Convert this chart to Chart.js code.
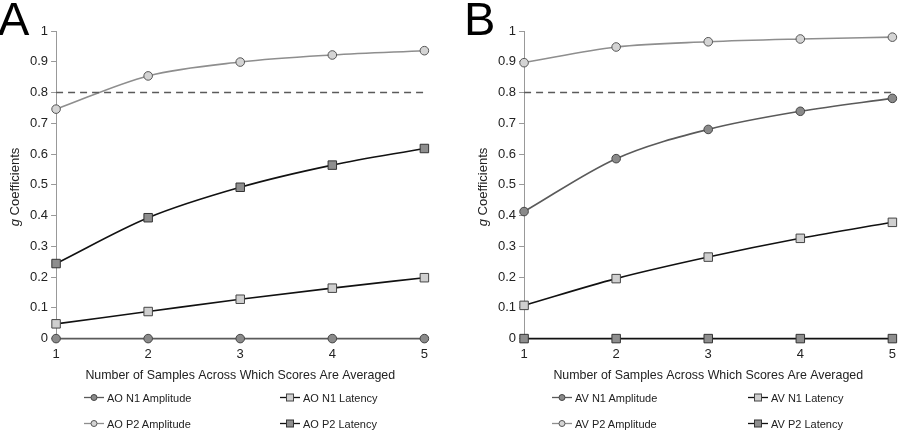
<!DOCTYPE html>
<html lang="en">
<head>
  <meta charset="UTF-8">
  <title>g Coefficients</title>
  <script src="https://cdn.jsdelivr.net/npm/chart.js"></script>
  <style>
    body {
      margin: 0;
      width: 900px;
      height: 430px;
      background: #fff;
      font-family: "Liberation Sans", Arial, sans-serif;
      color: #222;
      position: relative;
      overflow: hidden;
    }

    .panel {
      position: absolute;
      top: 0;
      width: 437px;
      height: 430px;
    }

    .panel canvas {
      position: absolute;
      left: 0;
      top: 0;
    }

    .letter {
      position: absolute;
      top: -9px;
      font-size: 47px;
      color: #000;
    }

    .ytitle {
      position: absolute;
      left: 14px;
      top: 187px;
      transform: translate(-50%, -50%) rotate(-90deg);
      font-size: 13px;
      white-space: nowrap;
    }

    .legend-item {
      position: absolute;
      font-size: 11px;
      display: flex;
      align-items: center;
      white-space: nowrap;
    }

    .legend-item svg {
      margin-right: 3px;
    }
  </style>
</head>
<body>

<div class="panel" id="panelA" style="left:0">
  <canvas id="chartA" width="437" height="430"></canvas>
  <div class="ytitle"><i>g</i> Coefficients</div>
  <div class="letter" style="left:-2px">A</div>
  <div class="legendBox"></div>
</div>

<div class="panel" id="panelB" style="left:468px">
  <canvas id="chartB" width="437" height="430"></canvas>
  <div class="ytitle"><i>g</i> Coefficients</div>
  <div class="letter" style="left:-4px">B</div>
  <div class="legendBox"></div>
</div>

<script>
  const sampleCounts = ['1', '2', '3', '4', '5'];
  const threshold = 0.8;

  // panel A - auditory only
  const aoN1Amplitude = [0, 0, 0, 0, 0];
  const aoN1Latency = [0.048, 0.088, 0.128, 0.164, 0.198];
  const aoP2Amplitude = [0.746, 0.854, 0.899, 0.922, 0.936];
  const aoP2Latency = [0.244, 0.393, 0.492, 0.564, 0.618];

  // panel B - audiovisual
  const avN1Amplitude = [0.413, 0.585, 0.680, 0.739, 0.781];
  const avN1Latency = [0.108, 0.195, 0.265, 0.326, 0.378];
  const avP2Amplitude = [0.897, 0.948, 0.965, 0.974, 0.980];
  const avP2Latency = [0, 0, 0, 0, 0];

  const styles = {
    n1Amp: { line: '#5a5a5a', fill: '#8a8a8a', edge: '#444', shape: 'circle' },
    n1Lat: { line: '#111', fill: '#cfcfcf', edge: '#444', shape: 'rect' },
    p2Amp: { line: '#8e8e8e', fill: '#d4d4d4', edge: '#555', shape: 'circle' },
    p2Lat: { line: '#111', fill: '#8e8e8e', edge: '#333', shape: 'rect' }
  };

  function series(label, data, st) {
    return {
      label: label,
      data: data,
      borderColor: st.line,
      borderWidth: 1.6,
      backgroundColor: st.fill,
      pointStyle: st.shape,
      pointRadius: st.shape === 'rect' ? 6 : 4.3,
      pointBackgroundColor: st.fill,
      pointBorderColor: st.edge,
      pointBorderWidth: 1,
      cubicInterpolationMode: 'monotone',
      clip: false
    };
  }

  function thresholdLine() {
    return {
      label: 'threshold',
      data: sampleCounts.map(() => threshold),
      borderColor: '#5a5a5a',
      borderWidth: 1.5,
      borderDash: [7, 5],
      pointRadius: 0,
      clip: false
    };
  }

  function drawPanel(canvasId, datasets) {
    new Chart(document.getElementById(canvasId), {
      type: 'line',
      data: { labels: sampleCounts, datasets: datasets },
      options: {
        responsive: false,
        animation: false,
        layout: { padding: { left: 27, right: 0, top: 31, bottom: 48 } },
        plugins: { legend: { display: false }, tooltip: { enabled: false } },
        scales: {
          x: {
            offset: false,
            grid: { display: false, drawTicks: false },
            border: { display: true, color: '#999' },
            ticks: { color: '#222', font: { family: 'Liberation Sans', size: 13, lineHeight: 1 }, padding: 9 },
            title: {
              display: true,
              text: 'Number of Samples Across Which Scores Are Averaged',
              color: '#222',
              font: { family: 'Liberation Sans', size: 12.4, lineHeight: 1 },
              padding: { top: 0, bottom: 0 }
            }
          },
          y: {
            min: 0,
            max: 1,
            grid: { drawOnChartArea: false, drawTicks: true, tickLength: 5, color: '#999' },
            border: { display: true, color: '#999' },
            ticks: {
              stepSize: 0.1,
              color: '#222',
              padding: 3,
              font: { family: 'Liberation Sans', size: 13 },
              callback: v => String(Math.round(v * 10) / 10)
            }
          }
        }
      }
    });
  }

  function markerSvg(st) {
    const m = st.shape === 'rect'
      ? `<rect x="6.5" y="3" width="7" height="7" fill="${st.fill}" stroke="${st.edge}" stroke-width="1"/>`
      : `<circle cx="10" cy="6.5" r="3" fill="${st.fill}" stroke="${st.edge}" stroke-width="1"/>`;
    return `<svg width="20" height="13"><line x1="0" y1="6.5" x2="20" y2="6.5" stroke="${st.line}" stroke-width="1.3"/>${m}</svg>`;
  }

  function drawLegend(panelId, prefix) {
    const box = document.querySelector('#' + panelId + ' .legendBox');
    const items = [
      [prefix + ' N1 Amplitude', styles.n1Amp, 84, 398],
      [prefix + ' N1 Latency', styles.n1Lat, 280, 398],
      [prefix + ' P2 Amplitude', styles.p2Amp, 84, 424],
      [prefix + ' P2 Latency', styles.p2Lat, 280, 424]
    ];
    items.forEach(([text, st, x, y]) => {
      const el = document.createElement('div');
      el.className = 'legend-item';
      el.style.left = x + 'px';
      el.style.top = (y - 7) + 'px';
      el.innerHTML = markerSvg(st) + '<span>' + text + '</span>';
      box.appendChild(el);
    });
  }

  drawPanel('chartA', [
    thresholdLine(),
    series('AO P2 Amplitude', aoP2Amplitude, styles.p2Amp),
    series('AO P2 Latency', aoP2Latency, styles.p2Lat),
    series('AO N1 Latency', aoN1Latency, styles.n1Lat),
    series('AO N1 Amplitude', aoN1Amplitude, styles.n1Amp)
  ]);

  drawPanel('chartB', [
    thresholdLine(),
    series('AV P2 Amplitude', avP2Amplitude, styles.p2Amp),
    series('AV N1 Amplitude', avN1Amplitude, styles.n1Amp),
    series('AV N1 Latency', avN1Latency, styles.n1Lat),
    series('AV P2 Latency', avP2Latency, styles.p2Lat)
  ]);

  drawLegend('panelA', 'AO');
  drawLegend('panelB', 'AV');
</script>

</body>
</html>
